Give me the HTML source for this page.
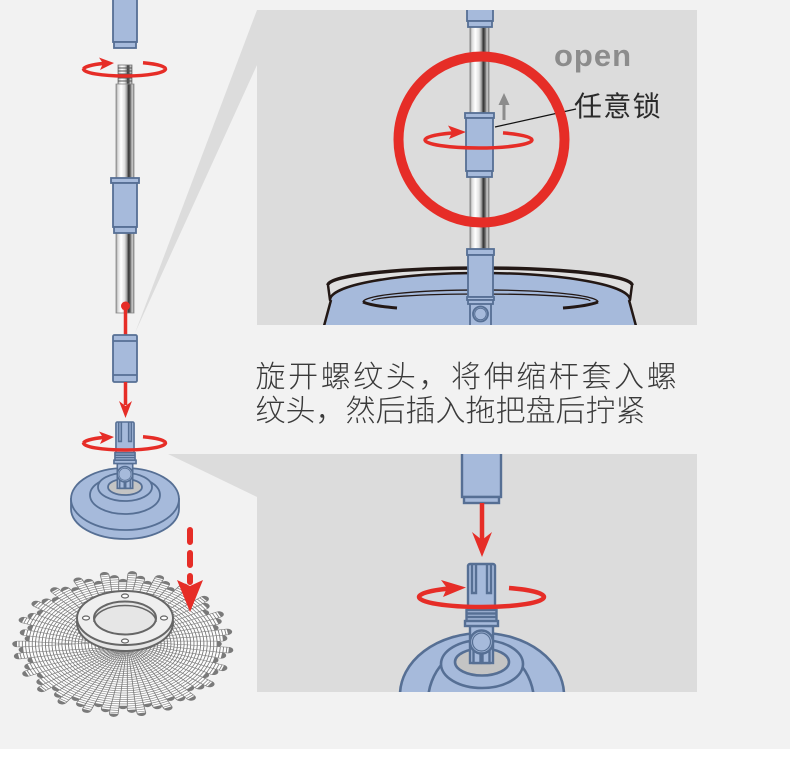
<!DOCTYPE html>
<html><head><meta charset="utf-8">
<style>
html,body{margin:0;padding:0;background:#f2f2f2;}
svg{display:block;}
</style></head><body>
<svg width="790" height="758" viewBox="0 0 790 758" xmlns="http://www.w3.org/2000/svg">
<defs>
<linearGradient id="pole" x1="0" y1="0" x2="1" y2="0">
 <stop offset="0" stop-color="#8a8a8a"/>
 <stop offset="0.1" stop-color="#d9d9d9"/>
 <stop offset="0.28" stop-color="#ffffff"/>
 <stop offset="0.48" stop-color="#e2e2e2"/>
 <stop offset="0.6" stop-color="#a0a0a0"/>
 <stop offset="0.7" stop-color="#333333"/>
 <stop offset="0.8" stop-color="#6a6a6a"/>
 <stop offset="0.9" stop-color="#cfcfcf"/>
 <stop offset="1" stop-color="#7a7a7a"/>
</linearGradient>
<clipPath id="cp1"><rect x="257" y="10" width="440" height="315"/></clipPath>
<clipPath id="cp2"><rect x="257" y="454" width="440" height="238"/></clipPath>
<g id="head" fill="#a6badb" stroke="#566f94" stroke-width="2.4">
 <rect x="-11.5" y="62" width="23" height="37"/>
 <rect x="-13.5" y="0" width="27" height="47" rx="2"/>
 <path d="M-9.5,0 V29 H-5.5 V0 M5.5,0 V29 H9.5 V0" fill="none"/>
 <rect x="-15" y="46" width="30" height="11"/>
 <line x1="-15" y1="49.5" x2="15" y2="49.5"/>
 <line x1="-15" y1="53" x2="15" y2="53"/>
 <rect x="-16.5" y="57" width="33" height="5"/>
 <rect x="-8" y="84" width="7" height="15"/>
 <rect x="1" y="84" width="7" height="15"/>
 <circle cx="0" cy="78" r="11.5"/>
 <circle cx="0" cy="78" r="9" fill="none" stroke-width="1.2"/>
</g>
<g id="st">
 <line x1="12" y1="0" x2="106" y2="0" stroke="#7a7a7a" stroke-width="9.5" stroke-linecap="round"/>
 <line x1="12" y1="0" x2="106" y2="0" stroke="#fdfdfd" stroke-width="7.8" stroke-dasharray="2.4 0.9"/>
</g>
<g id="st2">
 <line x1="12" y1="0" x2="94" y2="0" stroke="#7a7a7a" stroke-width="9.5" stroke-linecap="round"/>
 <line x1="12" y1="0" x2="94" y2="0" stroke="#fdfdfd" stroke-width="7.8" stroke-dasharray="2.4 0.9"/>
</g>
<g id="st3">
 <line x1="12" y1="0" x2="100" y2="0" stroke="#7a7a7a" stroke-width="9.5" stroke-linecap="round"/>
 <line x1="12" y1="0" x2="100" y2="0" stroke="#fdfdfd" stroke-width="7.8" stroke-dasharray="2.4 0.9"/>
</g>
</defs>

<rect x="0" y="0" width="790" height="749" fill="#f2f2f2"/>
<rect x="0" y="749" width="790" height="9" fill="#ffffff"/>

<!-- wedges -->
<polygon points="257,10 257,65 135,333" fill="#dcdcdc"/>
<polygon points="168,454 257,454 257,497" fill="#dcdcdc"/>

<!-- ===== TOP PANEL ===== -->
<rect x="257" y="10" width="440" height="315" fill="#dcdcdc"/>
<g clip-path="url(#cp1)">
 <path d="M330,300 A150,27 0 0,1 630,300 L637,330 L323,330 Z" fill="#a6badb"/>
 <path d="M328,285 A152,17 0 0,1 632,285 L630,300 A150,27 0 0,0 330,300 Z" fill="#e0e0e0" stroke="#231815" stroke-width="2.5" stroke-linejoin="round"/>
 <path d="M328,285 A152,17 0 0,1 632,285" fill="none" stroke="#231815" stroke-width="3.5"/>
 <path d="M363,302 A117,12 0 0,1 598,302" fill="none" stroke="#231815" stroke-width="1.3"/>
 <path d="M372,301 A109,7 0 0,1 590,301" fill="none" stroke="#231815" stroke-width="1.3"/>
 <path d="M363,302 Q372,306 397,308 M598,302 Q588,306 563,308" fill="none" stroke="#231815" stroke-width="3"/>
 <path d="M331,300 L324,326 M629,300 L636,326" fill="none" stroke="#231815" stroke-width="2.5"/>

 <rect x="470" y="20" width="19" height="235" fill="url(#pole)" stroke="#777" stroke-width="0.8"/>
 <g fill="#a6badb" stroke="#566f94" stroke-width="1.8">
  <rect x="467" y="4" width="26" height="17"/>
  <rect x="468" y="21" width="24" height="6"/>
 </g>

 <g fill="none" stroke="#e62d27" stroke-width="3.5">
  <path d="M425,140 A53.5,8 0 0,1 452,133"/>
  <path d="M503,132.9 A53.5,8 0 0,1 532,140"/>
 </g>
 <polygon points="466,132 448,125.5 452,132.5 449,139" fill="#e62d27"/>

 <g fill="#a6badb" stroke="#566f94" stroke-width="1.8">
  <rect x="465" y="113" width="29" height="5"/>
  <rect x="466" y="118" width="27" height="53"/>
  <rect x="467" y="171" width="25" height="6"/>
 </g>
 <path d="M425,140 A53.5,8 0 0,0 532,140" fill="none" stroke="#e62d27" stroke-width="3.5"/>

 <line x1="504" y1="120" x2="504" y2="102" stroke="#8c8c8c" stroke-width="3"/>
 <polygon points="498.5,105 509.5,105 504,93" fill="#8c8c8c"/>

 <line x1="495" y1="127" x2="576" y2="109" stroke="#111" stroke-width="1.2"/>

 <circle cx="481.5" cy="139.5" r="83" fill="none" stroke="#e62d27" stroke-width="10"/>

 <g fill="#a6badb" stroke="#566f94" stroke-width="1.8">
  <rect x="470" y="303" width="21" height="30"/>
  <rect x="467" y="249" width="27" height="6"/>
  <rect x="468" y="255" width="25" height="42"/>
  <rect x="467" y="297" width="27" height="3"/>
  <rect x="468" y="300" width="25" height="4"/>
  <circle cx="480.5" cy="314" r="7.5"/>
  <circle cx="480.5" cy="314" r="5.8" fill="none" stroke-width="1"/>
 </g>
</g>
<text x="554" y="66" font-family="'Liberation Sans',sans-serif" font-weight="bold" font-size="31" letter-spacing="1" fill="#8c8c8c">open</text>
<text x="574" y="116" font-family="'Liberation Sans','Noto Sans CJK SC',sans-serif" font-size="28" letter-spacing="1.3" fill="#2a2a2a">任意锁</text>

<!-- ===== TEXT ===== -->
<text x="255.5" y="387" font-family="'Liberation Sans','Noto Sans CJK SC',sans-serif" font-weight="300" font-size="30" letter-spacing="2.6" fill="#3a3a3a">旋开螺纹头，将伸缩杆套入螺</text>
<text x="255.5" y="421" font-family="'Liberation Sans','Noto Sans CJK SC',sans-serif" font-weight="300" font-size="30" fill="#3a3a3a">纹头，然后插入拖把盘后拧紧</text>

<!-- ===== BOTTOM PANEL ===== -->
<rect x="257" y="454" width="440" height="238" fill="#dcdcdc"/>
<g clip-path="url(#cp2)">
 <g fill="#a6badb" stroke="#566f94" stroke-width="2.6">
  <ellipse cx="482" cy="695" rx="82" ry="62"/>
  <ellipse cx="481" cy="702" rx="53" ry="56"/>
  <ellipse cx="482" cy="664" rx="41" ry="24"/>
  <ellipse cx="482" cy="662" rx="27" ry="13.5" fill="#c4c4c4"/>
 </g>
 <g fill="none" stroke="#e62d27" stroke-width="4.5">
  <path d="M419,597 A62.5,10 0 0,1 448,588.6"/>
  <path d="M509,588 A62.5,10 0 0,1 544,597"/>
 </g>
 <polygon points="466,587.5 441,580 447,588 443,597" fill="#e62d27"/>
 <use href="#head" transform="translate(481.5,564)"/>
 <path d="M419,597 A62.5,10 0 0,0 544,597" fill="none" stroke="#e62d27" stroke-width="4.5"/>

 <g fill="#a6badb" stroke="#566f94" stroke-width="2.4">
  <rect x="462" y="448" width="39" height="49"/>
  <rect x="464" y="497" width="35" height="6"/>
 </g>
 <line x1="482" y1="503" x2="482" y2="540" stroke="#e62d27" stroke-width="4.5"/>
 <polygon points="472,532 482,540 492,532 482,557" fill="#e62d27"/>
</g>

<!-- ===== LEFT COLUMN ===== -->
<g fill="#a6badb" stroke="#566f94" stroke-width="1.8">
 <rect x="113" y="-3" width="24" height="45"/>
 <rect x="114" y="42" width="22" height="6"/>
</g>
<g fill="none" stroke="#e62d27" stroke-width="3.5">
 <path d="M83.5,69 A41,7 0 0,1 104,63.4"/>
 <path d="M143,62.7 A41,7 0 0,1 165.5,69"/>
</g>
<polygon points="114,63 99,57.5 103,63.5 100,70" fill="#e62d27"/>
<rect x="118" y="65" width="14" height="20" fill="url(#pole)" stroke="#777" stroke-width="0.8"/>
<g stroke="#555" stroke-width="1">
 <line x1="118" y1="68" x2="132" y2="68"/>
 <line x1="118" y1="71" x2="132" y2="71"/>
 <line x1="118" y1="74" x2="132" y2="74"/>
 <line x1="118" y1="78" x2="132" y2="78"/>
 <line x1="118" y1="81" x2="132" y2="81"/>
</g>
<rect x="116" y="84" width="18" height="229" fill="url(#pole)" stroke="#888" stroke-width="0.8"/>
<path d="M83.5,69 A41,7 0 0,0 165.5,69" fill="none" stroke="#e62d27" stroke-width="3.5"/>

<g fill="#a6badb" stroke="#566f94" stroke-width="1.8">
 <rect x="111" y="178" width="28" height="5"/>
 <rect x="113" y="183" width="24" height="44"/>
 <rect x="114" y="227" width="22" height="6"/>
</g>

<line x1="125.5" y1="306" x2="125.5" y2="336" stroke="#e62d27" stroke-width="3.5"/>
<circle cx="125.5" cy="306" r="4.5" fill="#e62d27"/>
<g fill="#a6badb" stroke="#566f94" stroke-width="1.8">
 <rect x="113" y="335" width="24" height="47" rx="1.5"/>
 <line x1="113" y1="341" x2="137" y2="341"/>
 <line x1="113" y1="375" x2="137" y2="375"/>
</g>
<line x1="125.5" y1="382" x2="125.5" y2="405" stroke="#e62d27" stroke-width="3.5"/>
<polygon points="119,401 125.5,406 132,401 125.5,418" fill="#e62d27"/>

<!-- left disk -->
<g fill="#a6badb" stroke="#566f94" stroke-width="1.8">
 <path d="M71,499 L71,509 A54,30 0 0,0 179,509 L179,499 Z"/>
 <ellipse cx="125" cy="499" rx="54" ry="31"/>
 <ellipse cx="125" cy="495" rx="35" ry="19"/>
 <ellipse cx="125" cy="487" rx="27" ry="14"/>
 <ellipse cx="125" cy="487" rx="17" ry="8" fill="#c4c4c4"/>
</g>
<g fill="none" stroke="#e62d27" stroke-width="3.5">
 <path d="M83.5,443 A41,7 0 0,1 104,437.4"/>
 <path d="M143,436.7 A41,7 0 0,1 165.5,443"/>
</g>
<polygon points="114,437 99,431.5 103,437.5 100,444" fill="#e62d27"/>
<use href="#head" transform="translate(125,422) scale(0.67)"/>
<path d="M83.5,443 A41,7 0 0,0 165.5,443" fill="none" stroke="#e62d27" stroke-width="3.5"/>

<!-- dashed arrow -->
<line x1="190" y1="530" x2="190" y2="582" stroke="#e62d27" stroke-width="6" stroke-linecap="round" stroke-dasharray="12 11"/>

<!-- brush strands -->
<g transform="translate(123,644) scale(1,0.66)">
 <use href="#st" transform="rotate(180)"/><use href="#st2" transform="rotate(185)"/><use href="#st3" transform="rotate(190)"/><use href="#st2" transform="rotate(195)"/>
 <use href="#st" transform="rotate(200)"/><use href="#st3" transform="rotate(205)"/><use href="#st2" transform="rotate(210)"/><use href="#st" transform="rotate(215)"/>
 <use href="#st3" transform="rotate(220)"/><use href="#st2" transform="rotate(225)"/><use href="#st" transform="rotate(230)"/><use href="#st3" transform="rotate(235)"/>
 <use href="#st2" transform="rotate(240)"/><use href="#st" transform="rotate(245)"/><use href="#st3" transform="rotate(250)"/><use href="#st2" transform="rotate(255)"/>
 <use href="#st" transform="rotate(260)"/><use href="#st3" transform="rotate(265)"/><use href="#st2" transform="rotate(270)"/><use href="#st" transform="rotate(275)"/>
 <use href="#st3" transform="rotate(280)"/><use href="#st2" transform="rotate(285)"/><use href="#st" transform="rotate(290)"/><use href="#st3" transform="rotate(295)"/>
 <use href="#st2" transform="rotate(300)"/><use href="#st" transform="rotate(305)"/><use href="#st3" transform="rotate(310)"/><use href="#st2" transform="rotate(315)"/>
 <use href="#st" transform="rotate(320)"/><use href="#st3" transform="rotate(325)"/><use href="#st2" transform="rotate(330)"/><use href="#st" transform="rotate(335)"/>
 <use href="#st3" transform="rotate(340)"/><use href="#st2" transform="rotate(345)"/><use href="#st" transform="rotate(350)"/><use href="#st3" transform="rotate(355)"/>
 <use href="#st2" transform="rotate(0)"/><use href="#st" transform="rotate(5)"/><use href="#st3" transform="rotate(10)"/><use href="#st2" transform="rotate(15)"/>
 <use href="#st" transform="rotate(20)"/><use href="#st3" transform="rotate(25)"/><use href="#st2" transform="rotate(30)"/><use href="#st" transform="rotate(35)"/>
 <use href="#st3" transform="rotate(40)"/><use href="#st2" transform="rotate(45)"/><use href="#st" transform="rotate(50)"/><use href="#st3" transform="rotate(55)"/>
 <use href="#st2" transform="rotate(60)"/><use href="#st" transform="rotate(65)"/><use href="#st3" transform="rotate(70)"/><use href="#st2" transform="rotate(75)"/>
 <use href="#st" transform="rotate(80)"/><use href="#st3" transform="rotate(85)"/><use href="#st2" transform="rotate(90)"/><use href="#st" transform="rotate(95)"/>
 <use href="#st3" transform="rotate(100)"/><use href="#st2" transform="rotate(105)"/><use href="#st" transform="rotate(110)"/><use href="#st3" transform="rotate(115)"/>
 <use href="#st2" transform="rotate(120)"/><use href="#st" transform="rotate(125)"/><use href="#st3" transform="rotate(130)"/><use href="#st2" transform="rotate(135)"/>
 <use href="#st" transform="rotate(140)"/><use href="#st3" transform="rotate(145)"/><use href="#st2" transform="rotate(150)"/><use href="#st" transform="rotate(155)"/>
 <use href="#st3" transform="rotate(160)"/><use href="#st2" transform="rotate(165)"/><use href="#st" transform="rotate(170)"/><use href="#st3" transform="rotate(175)"/>
</g>

<!-- brush ring -->
<ellipse cx="125" cy="623" rx="48" ry="28" fill="#e6e6e6" stroke="#666" stroke-width="2"/>
<path d="M77,618 a48,27 0 1,0 96,0 a48,27 0 1,0 -96,0 Z M94,618 a31,16.5 0 1,0 62,0 a31,16.5 0 1,0 -62,0 Z" fill="#efefef" fill-rule="evenodd" stroke="#666" stroke-width="2"/>
<path d="M94,622 A31,16.5 0 0,1 156,622" fill="none" stroke="#666" stroke-width="1.5"/>
<g fill="#fff" stroke="#666" stroke-width="1.2">
 <ellipse cx="125" cy="596" rx="3.5" ry="2"/>
 <ellipse cx="86" cy="618" rx="3.5" ry="2"/>
 <ellipse cx="164" cy="618" rx="3.5" ry="2"/>
 <ellipse cx="125" cy="641" rx="3.5" ry="2"/>
</g>

<polygon points="177,580 190,586 203,580 190,612" fill="#e62d27"/>
</svg>
</body></html>
